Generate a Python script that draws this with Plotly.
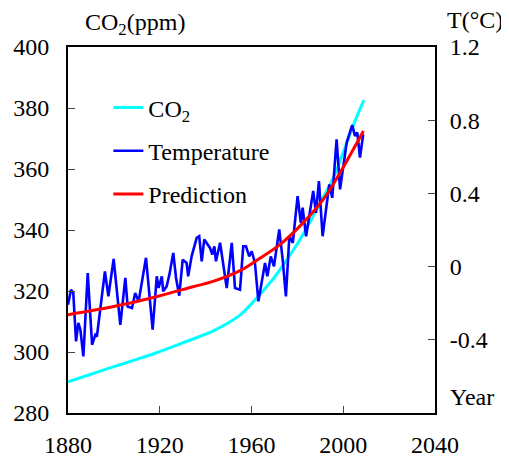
import plotly.graph_objects as go

co2_years = [1880, 1890, 1900, 1910, 1918, 1930, 1944, 1955, 1960, 1965, 1970, 1975,
             1980, 1985, 1990, 1995, 2000, 2005, 2009]
co2_ppm = [290.2, 292.7, 295.2, 297.6, 299.6, 303.0, 307.2, 312.1, 315.8, 320.0, 324.5,
           329.8, 335.5, 342.0, 349.0, 356.0, 365.5, 375.5, 382.6]

temp_years = [1880.0, 1881.3, 1882.3, 1883.5, 1884.5, 1885.4, 1886.7, 1888.6, 1890.5, 1891.9,
              1892.6, 1896.1, 1897.6, 1899.9, 1902.8, 1905.0, 1906.0, 1907.9, 1909.3, 1910.8,
              1914.0, 1916.9, 1918.7, 1919.5, 1920.9, 1921.5, 1923.0, 1924.2, 1925.9, 1927.1,
              1928.5, 1930.0, 1931.7, 1932.4, 1933.9, 1936.1, 1937.2, 1938.3, 1939.4, 1941.9,
              1942.9, 1943.8, 1944.5, 1946.3, 1949.2, 1951.4, 1952.8, 1955.0, 1956.4, 1957.6,
              1959.0, 1960.1, 1961.5, 1963.0, 1965.9, 1966.9, 1968.4, 1969.8, 1972.1, 1973.6,
              1975.0, 1976.5, 1978.0, 1980.1, 1981.5, 1982.3, 1983.8, 1985.2, 1986.9, 1988.1,
              1989.4, 1991.0, 1992.5, 1993.9, 1995.2, 1997.1, 1998.6, 1999.8, 2001.5, 2002.9,
              2003.9, 2005.1, 2006.1, 2007.3, 2008.7]
temp_c = [-0.208, -0.126, -0.144, -0.409, -0.308, -0.345, -0.491, -0.035, -0.427, -0.373,
          -0.382, -0.026, -0.163, 0.042, -0.318, -0.062, -0.218, -0.226, -0.144, -0.190,
          0.048, -0.345, -0.053, -0.117, -0.053, -0.135, -0.108, -0.044, 0.075, -0.062,
          -0.159, 0.038, 0.020, -0.053, 0.056, 0.157, 0.166, 0.029, 0.148, 0.102,
          0.066, 0.111, 0.029, 0.130, -0.117, 0.130, -0.117, -0.126, 0.111, 0.111,
          0.056, 0.084, 0.020, -0.190, 0.020, -0.053, 0.056, 0.002, 0.203, 0.038,
          -0.163, 0.166, 0.130, 0.385, 0.239, 0.322, 0.166, 0.276, 0.413, 0.294,
          0.467, 0.166, 0.303, 0.449, 0.376, 0.696, 0.422, 0.531, 0.678, 0.733,
          0.773, 0.714, 0.733, 0.596, 0.723]

pred_years = [1880, 1891, 1905.6, 1920.1, 1934.5, 1943.2, 1955, 1963.7, 1972.4, 1981.1,
              1991.3, 1998.6, 2004.4, 2008.8]
pred_c = [-0.263, -0.239, -0.203, -0.159, -0.110, -0.081, -0.022, 0.046, 0.120, 0.221,
          0.367, 0.513, 0.641, 0.741]

left_ticks = [280, 300, 320, 340, 360, 380, 400]
right_ticks = [-0.4, 0, 0.4, 0.8, 1.2]
right_labels = ["-0.4", "0", "0.4", "0.8", "1.2"]
x_ticks = [1880, 1920, 1960, 2000, 2040]

FONT = "Liberation Serif"

fig = go.Figure()
fig.add_trace(go.Scatter(x=co2_years, y=co2_ppm, mode="lines", name="CO<sub>2</sub>",
                         line=dict(color="#00FFFF", width=3, shape="spline"),
                         legendgroup="a"))
fig.add_trace(go.Scatter(x=temp_years, y=temp_c, mode="lines", name="Temperature",
                         line=dict(color="#0000FF", width=2.6), yaxis="y2",
                         legendgroup="b"))
fig.add_trace(go.Scatter(x=pred_years, y=pred_c, mode="lines", name="Prediction",
                         line=dict(color="#FF0000", width=3, shape="spline"), yaxis="y2",
                         legendgroup="c"))

fig.update_layout(
    width=501, height=449,
    margin=dict(l=60, r=74, t=39, b=44, autoexpand=False),
    paper_bgcolor="white", plot_bgcolor="white",
    font=dict(family=FONT, size=24, color="black"),
    showlegend=True,
    legend=dict(x=0.11, y=0.895, xanchor="left", yanchor="top",
                bgcolor="rgba(0,0,0,0)", font=dict(size=24, family=FONT),
                tracegroupgap=9, itemwidth=30),
    xaxis=dict(range=[1880, 2040], tickvals=x_ticks, ticks="inside", ticklen=7,
               showline=True, linecolor="black", linewidth=2, mirror=True,
               showgrid=False, zeroline=False, ticklabelstandoff=9, automargin=False),
    yaxis=dict(range=[280, 400], tickvals=left_ticks, ticks="inside", ticklen=7,
               showline=True, linecolor="black", linewidth=2,
               showgrid=False, zeroline=False, ticklabelstandoff=12, automargin=False),
    yaxis2=dict(range=[-0.8, 1.2], tickvals=right_ticks, ticktext=right_labels,
                overlaying="y", side="right", ticks="inside", ticklen=7,
                showline=True, linecolor="black", linewidth=2,
                showgrid=False, zeroline=False, ticklabelstandoff=8, automargin=False),
    annotations=[
        dict(text="CO<sub>2</sub>(ppm)", xref="paper", yref="paper", x=0.04, y=1.0,
             yshift=6, xanchor="left", yanchor="bottom", showarrow=False,
             font=dict(size=24, family=FONT)),
        dict(text="T(°C)", xref="paper", yref="paper", x=1.0, y=1.0, xshift=10,
             yshift=12, xanchor="left", yanchor="bottom", showarrow=False,
             font=dict(size=24, family=FONT)),
        dict(text="Year", xref="paper", yref="paper", x=1.0, y=0.0, xshift=13,
             yshift=1, xanchor="left", yanchor="bottom", showarrow=False,
             font=dict(size=24, family=FONT)),
    ],
)

fig.write_html("out.html")
